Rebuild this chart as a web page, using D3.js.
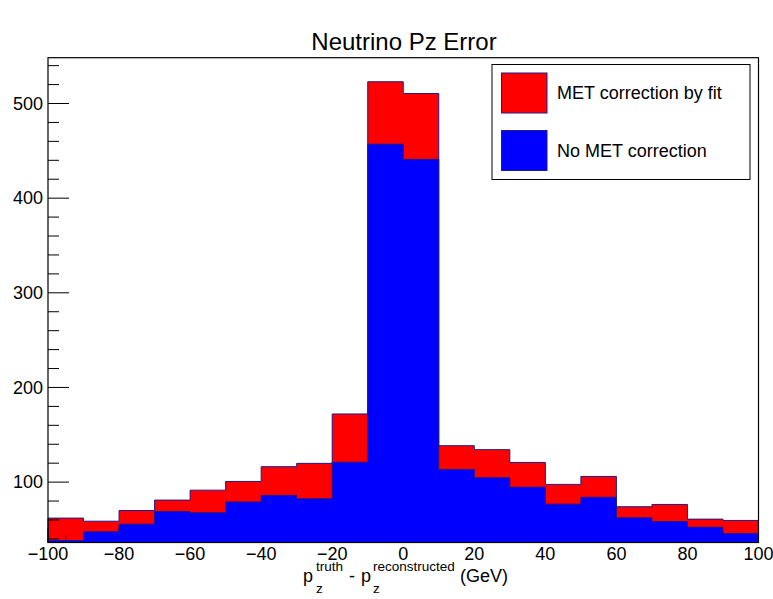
<!DOCTYPE html>
<html>
<head>
<meta charset="utf-8">
<script src="https://cdn.jsdelivr.net/npm/d3@7"></script>
<style>
  html, body { margin: 0; padding: 0; background: #fff; }
  text { font-family: "Liberation Sans", Arial, Helvetica, sans-serif; fill: #000; }
</style>
</head>
<body>
<svg id="chart" width="773" height="599"></svg>
<script>
// ---- data ----
const binEdges = [-100,-90,-80,-70,-60,-50,-40,-30,-20,-10,0,10,20,30,40,50,60,70,80,90,100];
const metFitValues = [62,58.7,70,81,91.5,100.7,116.3,119.8,172,523,510.6,138.5,134.3,120.8,97.6,106,74,76.4,60.9,59.5];
const noMetValues  = [38.3,47.5,55.6,69,67.6,79,86,82.4,121,457,441,113.4,104.6,94.7,76.7,84,62.3,58.4,52.4,45.7];
const seriesNames = ["MET correction by fit", "No MET correction"];
const seriesColors = ["#ff0000", "#0000ff"];
const xTickValues = [-100,-80,-60,-40,-20,0,20,40,60,80,100];
const yTickValues = [100,200,300,400,500];
const yDomain = [36.2, 548.4];
const titleText = "Neutrino Pz Error";

// ---- layout ----
const svg = d3.select("#chart");
const L = 48, R = 758.5, T = 57.7, B = 542.5;
const x = d3.scaleLinear().domain([-100, 100]).range([L, R]);
const y = d3.scaleLinear().domain(yDomain).range([B, T]);
const lineColor = "#1c1c8c";

function stepPath(vals) {
  let d = `M${x(binEdges[0])},${B}`;
  vals.forEach((v, i) => {
    d += `L${x(binEdges[i])},${y(v)}L${x(binEdges[i+1])},${y(v)}`;
  });
  d += `L${x(binEdges[binEdges.length-1])},${B}Z`;
  return d;
}

// red histogram
svg.append("path").attr("d", stepPath(metFitValues))
  .attr("fill", seriesColors[0]).attr("stroke", lineColor).attr("stroke-width", 1);

// axes (ticks inside)
const yMinor = d3.range(40, 549, 20);
svg.append("g").selectAll("line").data(yMinor).join("line")
  .attr("x1", L).attr("x2", d => (d % 100 === 0 ? L + 21 : L + 11))
  .attr("y1", d => y(d)).attr("y2", d => y(d))
  .attr("stroke", "#000").attr("stroke-width", 1);
const xMinor = d3.range(-100, 101, 5);
svg.append("g").selectAll("line").data(xMinor).join("line")
  .attr("x1", d => x(d)).attr("x2", d => x(d))
  .attr("y1", B).attr("y2", d => (d % 20 === 0 ? B - 14 : (d % 10 === 0 ? B - 10 : B - 7)))
  .attr("stroke", "#000").attr("stroke-width", 1);

// blue histogram
svg.append("path").attr("d", stepPath(noMetValues))
  .attr("fill", seriesColors[1]).attr("stroke", lineColor).attr("stroke-width", 1);

// frame
svg.append("rect").attr("x", L).attr("y", T).attr("width", R - L).attr("height", B - T)
  .attr("fill", "none").attr("stroke", "#000").attr("stroke-width", 1.2);

// tick labels
svg.append("g").selectAll("text").data(yTickValues).join("text")
  .attr("x", L - 5).attr("y", d => y(d)).attr("dy", "0.35em")
  .attr("text-anchor", "end").attr("font-size", 18).text(d => d);
svg.append("g").selectAll("text").data(xTickValues).join("text")
  .attr("x", d => x(d)).attr("y", 560)
  .attr("text-anchor", "middle").attr("font-size", 18)
  .text(d => (d < 0 ? "\u2212" + Math.abs(d) : d));

// title
svg.append("text").attr("x", 404).attr("y", 50).attr("text-anchor", "middle")
  .attr("font-size", 24).text(titleText);

// x-axis title (separate pieces for sub/superscripts)
const ax = svg.append("g").attr("font-size", 18);
const base = 582, sup = 571, sub = 593;
ax.append("text").attr("x", 303).attr("y", base).text("p");
ax.append("text").attr("x", 316).attr("y", sup).attr("font-size", 13.5).text("truth");
ax.append("text").attr("x", 316).attr("y", sub).attr("font-size", 13.5).text("z");
ax.append("text").attr("x", 349).attr("y", base).text("-");
ax.append("text").attr("x", 361).attr("y", base).text("p");
ax.append("text").attr("x", 373).attr("y", sup).attr("font-size", 13.5).text("reconstructed");
ax.append("text").attr("x", 373).attr("y", sub).attr("font-size", 13.5).text("z");
ax.append("text").attr("x", 460).attr("y", base).text("(GeV)");

// legend
const lg = svg.append("g");
lg.append("rect").attr("x", 492).attr("y", 64.5).attr("width", 258).attr("height", 115)
  .attr("fill", "#fff").attr("stroke", "#000").attr("stroke-width", 1);
seriesNames.forEach((name, i) => {
  const yy = 73 + i * 57.5;
  lg.append("rect").attr("x", 501.5).attr("y", yy).attr("width", 45.5).attr("height", 40)
    .attr("fill", seriesColors[i]).attr("stroke", lineColor).attr("stroke-width", 1);
  lg.append("text").attr("x", 557).attr("y", yy + 20).attr("dy", "0.35em")
    .attr("font-size", 18).text(name);
});
</script>
</body>
</html>
